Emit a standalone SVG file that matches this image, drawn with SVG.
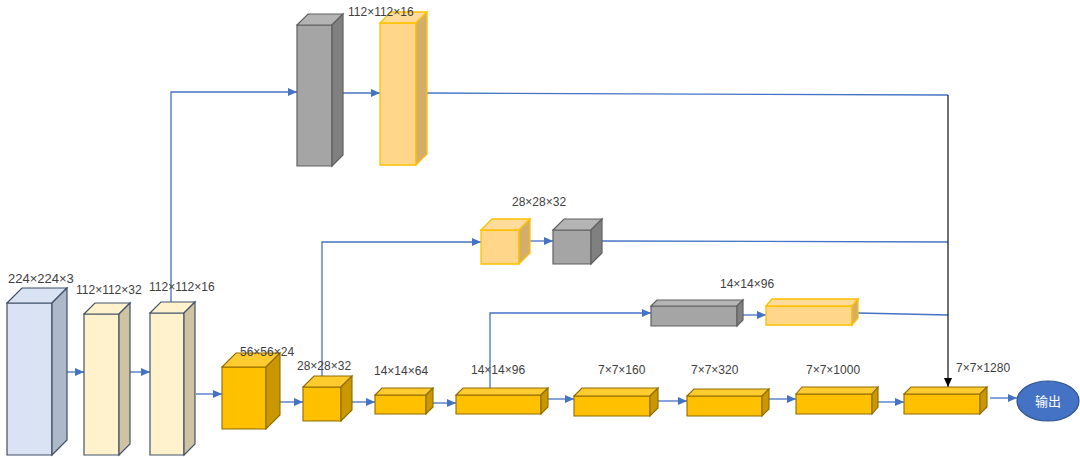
<svg xmlns="http://www.w3.org/2000/svg" width="1080" height="457" viewBox="0 0 1080 457">
<style>
.t{font-family:"Liberation Sans","Noto Sans CJK SC",sans-serif;font-size:12px;fill:#404040}
.c{stroke:#4472C4;stroke-width:1.3;fill:none}
.blue .f,.blue .tp{fill:#DAE3F3}.blue .s{fill:#ADB8C8}.blue path{stroke:#3F4F67;stroke-width:1.2}
.cream .f,.cream .tp{fill:#FFF2CC}.cream .s{fill:#CFC3A3}.cream path{stroke:#44546A;stroke-width:1.2}
.gold .f{fill:#FFC000}.gold .tp{fill:#FFCB2E}.gold .s{fill:#C99800}.gold path{stroke:#8F6B00;stroke-width:1.1}
.lor .f{fill:#FFD68A}.lor .tp{fill:#FFDC9C}.lor .s{fill:#D2AD6C}.lor path{stroke:#FFC000;stroke-width:1.3}
.gray .f{fill:#A5A5A5}.gray .tp{fill:#B4B4B4}.gray .s{fill:#808080}.gray path{stroke:#606060;stroke-width:1.2}
</style>
<defs>
<marker id="a" markerUnits="userSpaceOnUse" markerWidth="9" markerHeight="8" refX="9" refY="4" orient="auto"><path d="M0,0 L9,4 L0,8 z" fill="#4472C4"/></marker>
<marker id="k" markerUnits="userSpaceOnUse" markerWidth="9" markerHeight="8" refX="9" refY="4" orient="auto"><path d="M0,0 L9,4 L0,8 z" fill="#000"/></marker>
</defs>
<g id="connectors">
<path class="c" d="M63,372 H84" marker-end="url(#a)"/>
<path class="c" d="M130,372 H150" marker-end="url(#a)"/>
<path class="c" d="M196,394 H222" marker-end="url(#a)"/>
<path class="c" d="M276,402 H303" marker-end="url(#a)"/>
<path class="c" d="M349,402 H375" marker-end="url(#a)"/>
<path class="c" d="M430,403 H456" marker-end="url(#a)"/>
<path class="c" d="M547,399 H574" marker-end="url(#a)"/>
<path class="c" d="M657,401 H687" marker-end="url(#a)"/>
<path class="c" d="M768,399 H796" marker-end="url(#a)"/>
<path class="c" d="M877,402 H904" marker-end="url(#a)"/>
<path class="c" d="M990,398 H1017" marker-end="url(#a)"/>
<path class="c" d="M171,302 V92 H297" marker-end="url(#a)"/>
<path class="c" d="M343,93 H380" marker-end="url(#a)"/>
<path class="c" d="M427,93 L948,95"/>
<path class="c" d="M322,377 V242 H481" marker-end="url(#a)"/>
<path class="c" d="M530,241 H553" marker-end="url(#a)"/>
<path class="c" d="M602,241 L948,242"/>
<path class="c" d="M490,395 V313 H651" marker-end="url(#a)"/>
<path class="c" d="M743,315 H766" marker-end="url(#a)"/>
<path class="c" d="M858,313 L948,315"/>
<path d="M948,95 V387" stroke="#222" stroke-width="1.3" fill="none" marker-end="url(#k)"/>
</g>
<g id="n1" class="blue">
<path class="f" d="M7,303 H52 V455 H7 Z"/><path class="tp" d="M7,303 L22,288 H67 L52,303 Z"/><path class="s" d="M52,303 L67,288 V440 L52,455 Z"/>
<text class="t" x="8" y="283" style="font-size:13px">224×224×3</text>
</g>
<g id="n2" class="cream">
<path class="f" d="M84,314 H119 V455 H84 Z"/><path class="tp" d="M84,314 L95,303 H130 L119,314 Z"/><path class="s" d="M119,314 L130,303 V444 L119,455 Z"/>
<text class="t" x="76" y="294">112×112×32</text>
</g>
<g id="n3" class="cream">
<path class="f" d="M150,313 H184 V455 H150 Z"/><path class="tp" d="M150,313 L161,302 H195 L184,313 Z"/><path class="s" d="M184,313 L195,302 V444 L184,455 Z"/>
<text class="t" x="149" y="291">112×112×16</text>
</g>
<g id="n4" class="gold">
<path class="f" d="M222,367 H266 V429 H222 Z"/><path class="tp" d="M222,367 L236,353 H280 L266,367 Z"/><path class="s" d="M266,367 L280,353 V415 L266,429 Z"/>
<text class="t" x="240" y="356">56×56×24</text>
</g>
<g id="n5" class="gold">
<path class="f" d="M303,387 H341 V421 H303 Z"/><path class="tp" d="M303,387 L314,376 H352 L341,387 Z"/><path class="s" d="M341,387 L352,376 V410 L341,421 Z"/>
<text class="t" x="297" y="370">28×28×32</text>
</g>
<g id="n6" class="gold">
<path class="f" d="M375,395 H426 V414 H375 Z"/><path class="tp" d="M375,395 L382,388 H433 L426,395 Z"/><path class="s" d="M426,395 L433,388 V407 L426,414 Z"/>
<text class="t" x="374" y="375">14×14×64</text>
</g>
<g id="n7" class="gold">
<path class="f" d="M456,395 H541 V414 H456 Z"/><path class="tp" d="M456,395 L463,388 H548 L541,395 Z"/><path class="s" d="M541,395 L548,388 V407 L541,414 Z"/>
<text class="t" x="471" y="374">14×14×96</text>
</g>
<g id="n8" class="gold">
<path class="f" d="M574,396 H650 V416 H574 Z"/><path class="tp" d="M574,396 L582,388 H658 L650,396 Z"/><path class="s" d="M650,396 L658,388 V408 L650,416 Z"/>
<text class="t" x="598" y="374">7×7×160</text>
</g>
<g id="n9" class="gold">
<path class="f" d="M687,396 H762 V416 H687 Z"/><path class="tp" d="M687,396 L694,389 H769 L762,396 Z"/><path class="s" d="M762,396 L769,389 V409 L762,416 Z"/>
<text class="t" x="691" y="374">7×7×320</text>
</g>
<g id="n10" class="gold">
<path class="f" d="M796,394 H872 V414 H796 Z"/><path class="tp" d="M796,394 L802,387 H878 L872,394 Z"/><path class="s" d="M872,394 L878,387 V407 L872,414 Z"/>
<text class="t" x="806" y="374">7×7×1000</text>
</g>
<g id="n11" class="gold">
<path class="f" d="M904,394 H980 V414 H904 Z"/><path class="tp" d="M904,394 L911,387 H987 L980,394 Z"/><path class="s" d="M980,394 L987,387 V407 L980,414 Z"/>
<text class="t" x="956" y="372">7×7×1280</text>
</g>
<g id="out">
<ellipse cx="1048" cy="401" rx="31" ry="20" fill="#4472C4" stroke="#2F528F" stroke-width="1.2"/>
<text class="t" x="1048" y="405.5" text-anchor="middle" style="fill:#fff;font-size:13px">输出</text>
</g>
<g id="g1" class="gray">
<path class="f" d="M297,25 H332 V166 H297 Z"/><path class="tp" d="M297,25 L308,14 H343 L332,25 Z"/><path class="s" d="M332,25 L343,14 V155 L332,166 Z"/>
</g>
<g id="o1" class="lor">
<path class="f" d="M380,23 H416 V165 H380 Z"/><path class="tp" d="M380,23 L391,12 H427 L416,23 Z"/><path class="s" d="M416,23 L427,12 V154 L416,165 Z"/>
<text class="t" x="348" y="16">112×112×16</text>
</g>
<g id="o2" class="lor">
<path class="f" d="M481,230 H519 V264 H481 Z"/><path class="tp" d="M481,230 L492,219 H530 L519,230 Z"/><path class="s" d="M519,230 L530,219 V253 L519,264 Z"/>
<text class="t" x="512" y="206">28×28×32</text>
</g>
<g id="g2" class="gray">
<path class="f" d="M553,230 H591 V264 H553 Z"/><path class="tp" d="M553,230 L564,219 H602 L591,230 Z"/><path class="s" d="M591,230 L602,219 V253 L591,264 Z"/>
</g>
<g id="g3" class="gray">
<path class="f" d="M651,306 H737 V326 H651 Z"/><path class="tp" d="M651,306 L657,300 H743 L737,306 Z"/><path class="s" d="M737,306 L743,300 V320 L737,326 Z"/>
<text class="t" x="720" y="288">14×14×96</text>
</g>
<g id="o3" class="lor">
<path class="f" d="M766,306 H852 V325 H766 Z"/><path class="tp" d="M766,306 L772,299 H858 L852,306 Z"/><path class="s" d="M852,306 L858,299 V318 L852,325 Z"/>
</g>
</svg>
